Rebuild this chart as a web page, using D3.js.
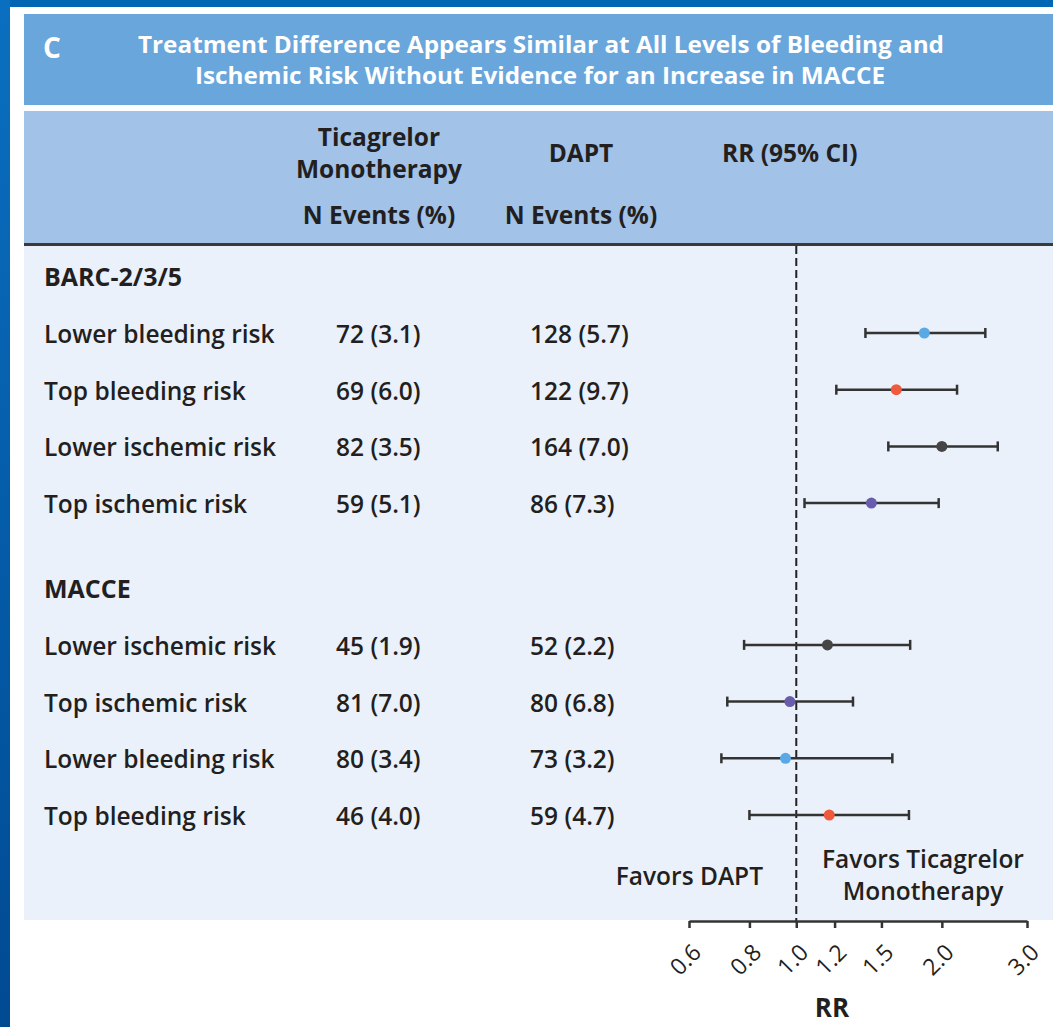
<!DOCTYPE html>
<html>
<head>
<meta charset="utf-8">
<script src="https://cdn.jsdelivr.net/npm/d3@7"></script>
<style>
  html, body { margin: 0; padding: 0; background: #ffffff; }
  svg { display: block; }
  .t { font-family: "Open Sans", "Noto Sans", sans-serif; fill: #231f20; }
</style>
</head>
<body>
<svg id="chart" width="1053" height="1027"></svg>
<script>
// ---- data ----
const sections = ["BARC-2/3/5", "MACCE"];
const sectionSlots = [0, 5.5];
const rowLabels = [
  "Lower bleeding risk", "Top bleeding risk", "Lower ischemic risk", "Top ischemic risk",
  "Lower ischemic risk", "Top ischemic risk", "Lower bleeding risk", "Top bleeding risk"
];
const rowSlots = [1, 2, 3, 4, 6.5, 7.5, 8.5, 9.5];
const ticaN   = [72, 69, 82, 59, 45, 81, 80, 46];
const ticaPct = [3.1, 6.0, 3.5, 5.1, 1.9, 7.0, 3.4, 4.0];
const daptN   = [128, 122, 164, 86, 52, 80, 73, 59];
const daptPct = [5.7, 9.7, 7.0, 7.3, 2.2, 6.8, 3.2, 4.7];
const rr      = [1.84, 1.61, 2.00, 1.43, 1.16, 0.97, 0.95, 1.17];
const rrLow   = [1.39, 1.21, 1.55, 1.04, 0.78, 0.72, 0.70, 0.80];
const rrHigh  = [2.46, 2.15, 2.61, 1.97, 1.72, 1.31, 1.58, 1.71];
const riskGroup = ["lowBleed", "topBleed", "lowIsch", "topIsch", "lowIsch", "topIsch", "lowBleed", "topBleed"];
const axisTicks = [0.6, 0.8, 1.0, 1.2, 1.5, 2.0, 3.0];

const groupColor = d3.scaleOrdinal()
  .domain(["lowBleed", "topBleed", "lowIsch", "topIsch"])
  .range(["#5aa9e4", "#ef5a3c", "#454545", "#6a5cad"]);

const svg = d3.select("#chart");
const W = 1053, H = 1027;

// ---- frame ----
const defs = svg.append("defs");
const grad = defs.append("linearGradient").attr("id", "edge").attr("x1", 0).attr("y1", 0).attr("x2", 0).attr("y2", 1);
grad.append("stop").attr("offset", "0%").attr("stop-color", "#0a6fc0");
grad.append("stop").attr("offset", "100%").attr("stop-color", "#004a92");

svg.append("rect").attr("x", 0).attr("y", 0).attr("width", W).attr("height", 7).attr("fill", "#0066b4");
svg.append("rect").attr("x", 0).attr("y", 0).attr("width", 10).attr("height", H).attr("fill", "url(#edge)");

// title bar
svg.append("rect").attr("x", 24).attr("y", 14).attr("width", W - 24).attr("height", 91).attr("fill", "#68a6dc");
svg.append("text").attr("x", 43).attr("y", 58)
  .style("font-family", "'Open Sans', sans-serif").style("font-weight", 700).style("font-size", "28px")
  .attr("fill", "#ffffff").text("C");
const titleLines = [
  "Treatment Difference Appears Similar at All Levels of Bleeding and",
  "Ischemic Risk Without Evidence for an Increase in MACCE"
];
const titleWidths = [806, 690];
svg.selectAll("text.title").data(titleLines).join("text")
  .attr("class", "title")
  .attr("x", (d, i) => i === 0 ? 138 : 195)
  .attr("y", (d, i) => i === 0 ? 53 : 84)
  .attr("textLength", (d, i) => titleWidths[i])
  .attr("lengthAdjust", "spacingAndGlyphs")
  .style("font-family", "'Liberation Sans Narrow', 'Open Sans', sans-serif")
  .style("font-weight", 700).style("font-size", "23px")
  .attr("fill", "#ffffff")
  .text(d => d);

// header band
svg.append("rect").attr("x", 24).attr("y", 111).attr("width", W - 24).attr("height", 132).attr("fill", "#a2c2e8");
svg.append("rect").attr("x", 24).attr("y", 243).attr("width", W - 24).attr("height", 3).attr("fill", "#3a3a3a");
// body panel
svg.append("rect").attr("x", 24).attr("y", 246).attr("width", W - 24).attr("height", 674).attr("fill", "#eaf1fa");

const hdr = (x, y, txt, anchor) => svg.append("text").attr("class", "t")
  .attr("x", x).attr("y", y).attr("text-anchor", anchor || "middle")
  .style("font-weight", 700).style("font-size", "24.5px").text(txt);
hdr(379, 146, "Ticagrelor");
hdr(379, 178, "Monotherapy");
hdr(379, 224, "N Events (%)");
hdr(581, 162, "DAPT");
hdr(581, 224, "N Events (%)");
hdr(722, 162, "RR (95% CI)", "start");

// ---- scales ----
const x = d3.scaleLog().domain([0.6, 3.0]).range([689, 1027]);
const y = d3.scaleLinear().domain([1, 9.5]).range([333, 815]);

// section titles
svg.selectAll("text.sec").data(sections).join("text")
  .attr("class", "t sec")
  .attr("x", 44).attr("y", (d, i) => y(sectionSlots[i]) + 10)
  .style("font-weight", 700).style("font-size", "25px")
  .text(d => d);

const rows = rowLabels.map((label, i) => ({
  label, slot: rowSlots[i],
  tica: `${ticaN[i]} (${ticaPct[i].toFixed(1)})`,
  dapt: `${daptN[i]} (${daptPct[i].toFixed(1)})`,
  rr: rr[i], lo: rrLow[i], hi: rrHigh[i], group: riskGroup[i]
}));

const cell = (cls, xPos, acc) => svg.selectAll("text." + cls).data(rows).join("text")
  .attr("class", "t " + cls)
  .attr("x", xPos).attr("y", d => y(d.slot) + 10)
  .style("font-weight", 600).style("font-size", "24.5px")
  .text(acc);
cell("lab", 44, d => d.label);
cell("tica", 336, d => d.tica);
cell("dapt", 530, d => d.dapt);

// reference line at RR = 1
svg.append("line")
  .attr("x1", x(1)).attr("x2", x(1)).attr("y1", 246).attr("y2", 921)
  .attr("stroke", "#222").attr("stroke-width", 2).attr("stroke-dasharray", "8,4");

// confidence intervals
const ci = svg.append("g").attr("stroke", "#333").attr("stroke-width", 2.5);
ci.selectAll("line.ci").data(rows).join("line").attr("class", "ci")
  .attr("x1", d => x(d.lo)).attr("x2", d => x(d.hi))
  .attr("y1", d => y(d.slot)).attr("y2", d => y(d.slot));
ci.selectAll("line.capL").data(rows).join("line").attr("class", "capL")
  .attr("x1", d => x(d.lo)).attr("x2", d => x(d.lo))
  .attr("y1", d => y(d.slot) - 5).attr("y2", d => y(d.slot) + 5);
ci.selectAll("line.capH").data(rows).join("line").attr("class", "capH")
  .attr("x1", d => x(d.hi)).attr("x2", d => x(d.hi))
  .attr("y1", d => y(d.slot) - 5).attr("y2", d => y(d.slot) + 5);
svg.selectAll("circle.pt").data(rows).join("circle").attr("class", "pt")
  .attr("cx", d => x(d.rr)).attr("cy", d => y(d.slot)).attr("r", 5.5)
  .attr("fill", d => groupColor(d.group));

// favors labels
svg.append("text").attr("class", "t").attr("x", 763).attr("y", 885).attr("text-anchor", "end")
  .style("font-weight", 600).style("font-size", "24.5px").text("Favors DAPT");
svg.append("text").attr("class", "t").attr("x", 923).attr("y", 868).attr("text-anchor", "middle")
  .style("font-weight", 600).style("font-size", "24.5px").text("Favors Ticagrelor");
svg.append("text").attr("class", "t").attr("x", 923).attr("y", 900).attr("text-anchor", "middle")
  .style("font-weight", 600).style("font-size", "24.5px").text("Monotherapy");

// ---- axis ----
const axis = d3.axisBottom(x).tickValues(axisTicks).tickFormat(d3.format(".1f")).tickSize(7).tickSizeOuter(0);
const gAxis = svg.append("g").attr("transform", "translate(0,921)").call(axis);
gAxis.select(".domain").attr("stroke", "#333").attr("stroke-width", 2.5);
gAxis.selectAll(".tick line").attr("stroke", "#333").attr("stroke-width", 2.5);
gAxis.selectAll(".tick text")
  .attr("class", "t")
  .attr("fill", "#231f20")
  .style("font-family", "'Open Sans', sans-serif")
  .style("font-size", "23px").style("font-weight", 400)
  .attr("text-anchor", "end")
  .attr("y", 0).attr("dy", 0)
  .attr("transform", "translate(13,33) rotate(-45)");

svg.append("text").attr("class", "t").attr("x", 832).attr("y", 1017).attr("text-anchor", "middle")
  .style("font-weight", 700).style("font-size", "26px").text("RR");
</script>
</body>
</html>
